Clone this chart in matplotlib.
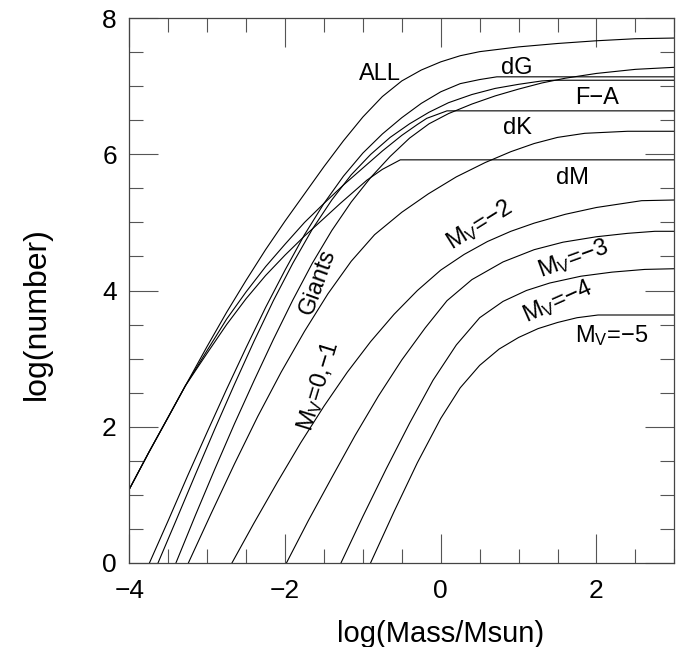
"""Number of stars of each kind against cluster mass (log-log)."""

import matplotlib

matplotlib.use("Agg")
import matplotlib.pyplot as plt
from matplotlib.ticker import MultipleLocator

plt.rcParams["font.family"] = ["Liberation Sans", "DejaVu Sans"]
plt.rcParams["mathtext.fontset"] = "custom"
plt.rcParams["mathtext.rm"] = "Liberation Sans"
plt.rcParams["mathtext.it"] = "Liberation Sans"

# curves: (log mass, log number)
all_x = [-4.0, -3.75, -3.5, -3.28, -3.0, -2.75, -2.5, -2.25, -2.0, -1.75, -1.5, -1.25,
         -1.0, -0.75, -0.5, -0.25, 0.0, 0.25, 0.5, 1.0, 1.5, 2.0, 2.5, 3.0]
all_y = [1.08, 1.62, 2.14, 2.6, 3.18, 3.68, 4.15, 4.6, 5.02, 5.42, 5.82, 6.2,
         6.55, 6.85, 7.08, 7.24, 7.36, 7.45, 7.51, 7.58, 7.63, 7.67, 7.7, 7.71]

dg_x = [-3.74, -3.5, -3.25, -3.0, -2.75, -2.5, -2.25, -2.0, -1.75, -1.5, -1.25, -1.0,
        -0.75, -0.5, -0.25, 0.0, 0.25, 0.5, 0.72, 3.0]
dg_y = [0.0, 0.62, 1.28, 1.92, 2.55, 3.16, 3.75, 4.3, 4.82, 5.28, 5.68, 6.02,
        6.3, 6.54, 6.75, 6.92, 7.04, 7.1, 7.14, 7.14]

fa_x = [-3.63, -3.4, -3.15, -2.9, -2.65, -2.4, -2.15, -1.9, -1.65, -1.4, -1.15, -0.9,
        -0.65, -0.4, -0.15, 0.1, 0.4, 0.7, 1.0, 1.3, 1.45, 3.0]
fa_y = [0.0, 0.62, 1.3, 1.97, 2.62, 3.25, 3.85, 4.4, 4.9, 5.33, 5.7, 6.0,
        6.25, 6.45, 6.62, 6.76, 6.88, 6.97, 7.03, 7.08, 7.09, 7.09]

giants_x = [-3.4, -3.15, -2.9, -2.65, -2.4, -2.15, -1.9, -1.65, -1.4, -1.15, -0.9, -0.65,
            -0.4, -0.15, 0.1, 0.4, 0.7, 1.0, 1.3, 1.6, 2.0, 2.5, 3.0]
giants_y = [0.0, 0.7, 1.38, 2.04, 2.67, 3.28, 3.86, 4.4, 4.88, 5.3, 5.66, 5.97,
            6.24, 6.45, 6.6, 6.74, 6.86, 6.96, 7.05, 7.12, 7.19, 7.25, 7.28]

dk_x = [-4.0, -3.75, -3.5, -3.28, -3.0, -2.75, -2.5, -2.25, -2.0, -1.75, -1.5, -1.25,
        -1.0, -0.75, -0.5, -0.3, -0.18, 0.08, 3.0]
dk_y = [1.08, 1.62, 2.14, 2.6, 3.12, 3.58, 3.98, 4.35, 4.68, 5.0, 5.28, 5.55,
        5.8, 6.05, 6.28, 6.44, 6.53, 6.64, 6.64]

dm_x = [-4.0, -3.75, -3.5, -3.28, -3.0, -2.75, -2.5, -2.25, -2.0, -1.75, -1.5, -1.29,
        -1.1, -0.95, -0.75, -0.52, 3.0]
dm_y = [1.08, 1.62, 2.14, 2.6, 3.08, 3.5, 3.88, 4.22, 4.52, 4.8, 5.06, 5.28,
        5.47, 5.62, 5.78, 5.92, 5.92]

mv01_x = [-3.24, -2.95, -2.65, -2.35, -2.05, -1.75, -1.45, -1.15, -0.85, -0.5, -0.16,
          0.2, 0.57, 0.9, 1.2, 1.5, 1.85, 2.4, 3.0]
mv01_y = [0.0, 0.72, 1.45, 2.15, 2.8, 3.4, 3.95, 4.43, 4.82, 5.15, 5.42,
          5.67, 5.88, 6.04, 6.16, 6.25, 6.31, 6.34, 6.34]

mv2_x = [-2.68, -2.4, -2.1, -1.8, -1.5, -1.2, -0.9, -0.6, -0.3, 0.0, 0.3, 0.6,
         0.9, 1.2, 1.6, 2.0, 2.58, 3.0]
mv2_y = [0.0, 0.58, 1.18, 1.76, 2.3, 2.8, 3.25, 3.65, 4.0, 4.3, 4.53, 4.72,
         4.87, 4.99, 5.12, 5.22, 5.32, 5.33]

mv3_x = [-1.98, -1.7, -1.4, -1.1, -0.8, -0.5, -0.2, 0.08, 0.4, 0.8, 1.2, 1.57,
         2.0, 2.4, 2.75, 3.0]
mv3_y = [0.0, 0.62, 1.25, 1.87, 2.45, 2.98, 3.45, 3.85, 4.16, 4.42, 4.6, 4.71,
         4.79, 4.84, 4.87, 4.87]

mv4_x = [-1.28, -1.0, -0.7, -0.4, -0.1, 0.2, 0.5, 0.8, 1.1, 1.4, 1.8, 2.2, 2.62, 3.0]
mv4_y = [0.0, 0.68, 1.38, 2.05, 2.68, 3.2, 3.6, 3.84, 4.0, 4.11, 4.21, 4.27, 4.31, 4.32]

mv5_x = [-0.9, -0.6, -0.3, 0.0, 0.25, 0.5, 0.75, 1.0, 1.25, 1.5, 1.75, 2.02, 3.0]
mv5_y = [0.0, 0.75, 1.47, 2.12, 2.57, 2.9, 3.14, 3.31, 3.44, 3.53, 3.6, 3.64, 3.64]

curves = [
    (all_x, all_y), (dg_x, dg_y), (fa_x, fa_y), (giants_x, giants_y),
    (dk_x, dk_y), (dm_x, dm_y), (mv01_x, mv01_y), (mv2_x, mv2_y),
    (mv3_x, mv3_y), (mv4_x, mv4_y), (mv5_x, mv5_y),
]

# label text, position (data), rotation
labels = [
    ("ALL", -0.78, 7.18, 0),
    ("dG", 0.98, 7.27, 0),
    ("F\u2212A", 2.01, 6.83, 0),
    ("dK", 0.98, 6.39, 0),
    ("dM", 1.69, 5.65, 0),
    ("Giants", -1.58, 4.12, 70),
    ("M$_{\\rm V}$=0,\u22121", -1.57, 2.6, 73),
    ("M$_{\\rm V}$=\u22122", 0.5, 4.96, 32),
    ("M$_{\\rm V}$=\u22123", 1.7, 4.46, 20),
    ("M$_{\\rm V}$=\u22124", 1.5, 3.84, 24),
    ("M$_{\\rm V}$=\u22125", 2.2, 3.34, 0),
]

fig = plt.figure(figsize=(6.99, 6.47), dpi=100)
ax = fig.add_axes([0.185, 0.1303, 0.7797, 0.8414])

for xs, ys in curves:
    ax.plot(xs, ys, color="black", lw=0.8)

for text, x, y, rot in labels:
    ax.text(x, y, text, fontsize=17, rotation=rot, rotation_mode="anchor",
            ha="center", va="center")

ax.set_xlim(-4, 3)
ax.set_ylim(0, 8)
ax.xaxis.set_major_locator(MultipleLocator(2))
ax.xaxis.set_minor_locator(MultipleLocator(0.5))
ax.yaxis.set_major_locator(MultipleLocator(2))
ax.yaxis.set_minor_locator(MultipleLocator(0.5))
ax.tick_params(which="both", direction="in", top=True, right=True,
               color="#555555", width=0.8, labelsize=19)
ax.tick_params(which="major", length=21)
ax.tick_params(which="minor", length=10)
ax.tick_params(axis="x", pad=12)
ax.tick_params(axis="y", pad=9)
for spine in ax.spines.values():
    spine.set_color("#444444")
    spine.set_linewidth(0.9)

ax.set_xlabel("log(Mass/Msun)", fontsize=21)
ax.set_ylabel("log(number)", fontsize=23)
ax.xaxis.set_label_coords(0.572, -0.105)
ax.yaxis.set_label_coords(-0.142, 0.457)

fig.savefig("out.png", dpi=100)
